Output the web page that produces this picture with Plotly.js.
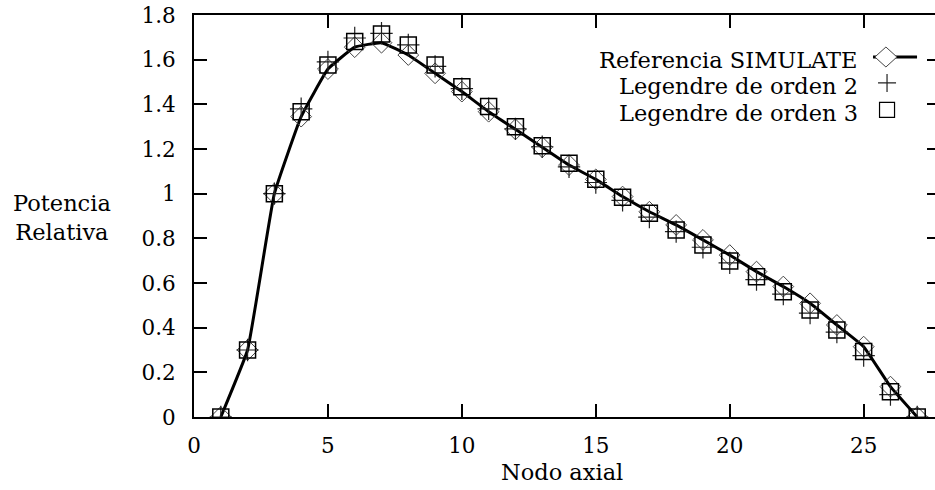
<!DOCTYPE html>
<html>
<head>
<meta charset="utf-8">
<script src="https://cdn.plot.ly/plotly-3.0.1.min.js"></script>
<style>
html, body { margin: 0; padding: 0; overflow: hidden; background: #fff; }
#chart { width: 942px; height: 490px; }
</style>
</head>
<body>
<div id="chart"></div>
<script>
// Axial node index
var nodes = [1,2,3,4,5,6,7,8,9,10,11,12,13,14,15,16,17,18,19,20,21,22,23,24,25,26,27];
// Referencia SIMULATE
var refSimulate = [0, 0.30, 1.00, 1.345, 1.558, 1.656, 1.676, 1.621, 1.539, 1.457, 1.367, 1.288, 1.208, 1.128, 1.064, 0.987, 0.919, 0.86, 0.793, 0.725, 0.651, 0.584, 0.509, 0.412, 0.315, 0.136, 0];
// Legendre de orden 2
var legendre2 = [0, 0.30, 1.00, 1.38, 1.59, 1.697, 1.718, 1.666, 1.57, 1.47, 1.38, 1.29, 1.21, 1.12, 1.05, 0.97, 0.895, 0.83, 0.76, 0.69, 0.615, 0.55, 0.465, 0.38, 0.275, 0.10, 0];
// Legendre de orden 3
var legendre3 = [0, 0.30, 1.00, 1.367, 1.576, 1.681, 1.715, 1.666, 1.576, 1.479, 1.39, 1.30, 1.214, 1.136, 1.064, 0.984, 0.912, 0.837, 0.77, 0.699, 0.628, 0.561, 0.479, 0.39, 0.293, 0.113, 0];

var seriesNames = ['Referencia SIMULATE', 'Legendre de orden 2', 'Legendre de orden 3'];
var xTitle = 'Nodo axial';
var yTitle = 'Potencia<br>Relativa';

var FONT = 'DejaVu Serif, serif';

var traces = [
  {
    x: nodes, y: refSimulate, mode: 'lines+markers', name: seriesNames[0],
    line: {color: '#000', width: 3, shape: 'spline', smoothing: 0.3},
    marker: {symbol: 'diamond-open', size: 16, color: '#444', line: {color: '#444', width: 1}}
  },
  {
    x: nodes, y: legendre2, mode: 'markers', name: seriesNames[1],
    marker: {symbol: 'cross-thin-open', size: 16, color: '#222', line: {color: '#222', width: 1.2}}
  },
  {
    x: nodes, y: legendre3, mode: 'markers', name: seriesNames[2],
    marker: {symbol: 'square-open', size: 16, color: '#000', line: {color: '#000', width: 1.5}}
  }
];

// Manual key: text on the left, sample on the right
var keyX = 0.929, keyTextX = 0.8928;
var keyY = [0.8955, 0.831, 0.764];
var keyTextY = [0.888, 0.8234, 0.756];

var shapes = [
  {type: 'line', xref: 'paper', yref: 'paper', xsizemode: 'pixel', ysizemode: 'pixel',
   xanchor: keyX, yanchor: keyY[0], x0: -14, x1: 30, y0: 0, y1: 0,
   line: {color: '#000', width: 3}},
  {type: 'path', xref: 'paper', yref: 'paper', xsizemode: 'pixel', ysizemode: 'pixel',
   xanchor: keyX - 0.0015, yanchor: keyY[0], path: 'M -11 0 L 0 10 L 11 0 L 0 -10 Z',
   fillcolor: '#fff', line: {color: '#444', width: 1}},
  {type: 'path', xref: 'paper', yref: 'paper', xsizemode: 'pixel', ysizemode: 'pixel',
   xanchor: keyX, yanchor: keyY[1], path: 'M -9 0 L 9 0 M 0 -9 L 0 9',
   line: {color: '#222', width: 1.2}},
  {type: 'path', xref: 'paper', yref: 'paper', xsizemode: 'pixel', ysizemode: 'pixel',
   xanchor: keyX, yanchor: keyY[2], path: 'M -7.5 -7.5 L 7.5 -7.5 L 7.5 7.5 L -7.5 7.5 Z',
   line: {color: '#000', width: 1.2}}
];

var annotations = seriesNames.map(function (n, i) {
  return {text: n, xref: 'paper', yref: 'paper', x: keyTextX, y: keyTextY[i],
          xanchor: 'right', yanchor: 'middle', showarrow: false,
          font: {family: FONT, size: 22.5, color: '#000'}};
});
annotations.push({text: yTitle, xref: 'paper', yref: 'paper', x: -0.1776, y: 0.4975,
  xanchor: 'center', yanchor: 'middle', align: 'center', showarrow: false,
  font: {family: FONT, size: 22.5, color: '#000'}});
annotations.push({text: xTitle, xref: 'paper', yref: 'paper', x: 0.4933, y: -0.137,
  xanchor: 'center', yanchor: 'middle', showarrow: false,
  font: {family: FONT, size: 22.5, color: '#000'}});

var axisCommon = {
  showline: true, mirror: 'ticks', linecolor: '#000', linewidth: 2,
  ticks: 'inside', ticklen: 13, tickwidth: 2, tickcolor: '#000',
  showgrid: false, zeroline: false,
  tickfont: {family: FONT, size: 21.5, color: '#000'}
};

var layout = {
  width: 942, height: 490,
  margin: {l: 194, r: 2, t: 15, b: 73},
  paper_bgcolor: '#fff', plot_bgcolor: '#fff',
  showlegend: false,
  xaxis: Object.assign({}, axisCommon, {range: [0, 27.85], tickmode: 'linear', tick0: 0, dtick: 5, ticklabelstandoff: 8}),
  yaxis: Object.assign({}, axisCommon, {range: [0, 1.8], tickmode: 'linear', tick0: 0, dtick: 0.2, ticklabelstandoff: 12}),
  shapes: shapes,
  annotations: annotations
};

Plotly.newPlot('chart', traces, layout, {displayModeBar: false, staticPlot: true});
</script>
</body>
</html>
